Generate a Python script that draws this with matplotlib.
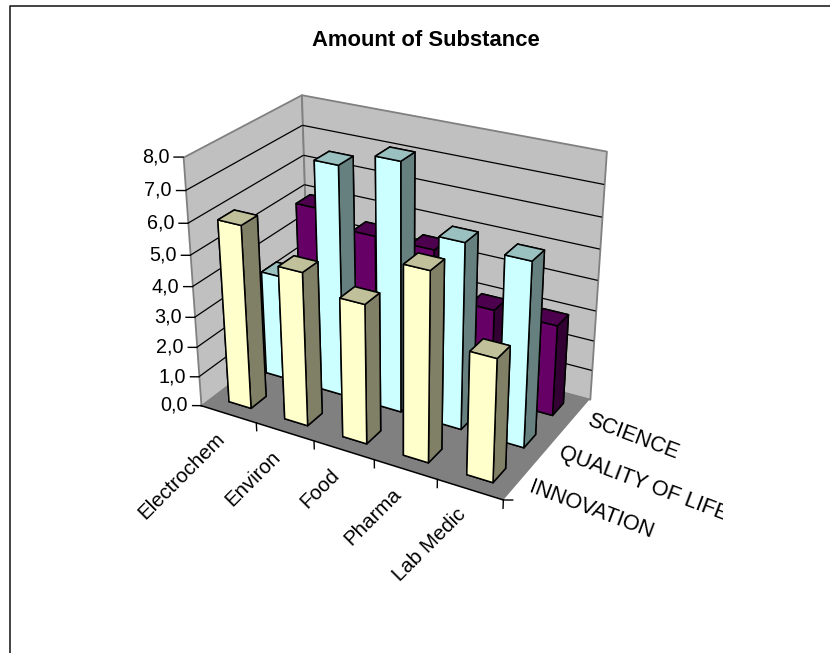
import numpy as np
import matplotlib
matplotlib.use("Agg")
import matplotlib.pyplot as plt
from matplotlib.lines import Line2D
from matplotlib.transforms import Bbox, IdentityTransform, TransformedBbox
from mpl_toolkits.mplot3d.art3d import Poly3DCollection, Line3DCollection

plt.rcParams['font.family'] = ['Liberation Sans', 'DejaVu Sans']

# ---- data ----
title = "Amount of Substance"
categories = ["Electrochem", "Environ", "Food", "Pharma", "Lab Medic"]
series_names = ["INNOVATION", "QUALITY OF LIFE", "SCIENCE"]
innovation = [6.0, 5.0, 4.5, 6.0, 3.9]
quality = [3.5, 7.5, 8.0, 6.0, 5.9]
science = [5.0, 4.5, 4.5, 3.0, 3.0]
z_ticks = [0, 1, 2, 3, 4, 5, 6, 7, 8]
z_labels = ["0,0", "1,0", "2,0", "3,0", "4,0", "5,0", "6,0", "7,0", "8,0"]

W, H = 830, 653
fig = plt.figure(figsize=(W / 100, H / 100), dpi=100, facecolor='white')
ax = fig.add_axes([0, 0, 1, 1], projection='3d', computed_zorder=False)
ax.set_axis_off()
ax.apply_aspect()

# ---- camera: calibrated from the frame of the box in the picture (px, y down) ----
calib = [
    ((0, 0, 0), (202, 404)), ((5, 0, 0), (502, 500)), ((5, 3, 0), (587, 398)),
    ((0, 3, 0), (308, 325)), ((0, 0, 8), (183, 157)), ((0, 3, 8), (302, 94)),
    ((5, 3, 8), (606, 152)), ((0, 0, 4), (192, 287)), ((2, 0, 0), (314, 441)),
    ((3, 0, 0), (374, 461)), ((5, 1, 0), (533, 464)), ((5, 2, 0), (569, 430)),
    ((5, 3, 4), (598, 280)),
]
rows, rhs = [], []
for (x, y, z), (u, v) in calib:
    d = H - v
    rows.append([x, y, z, 1, 0, 0, 0, 0, -u * x, -u * y, -u * z])
    rhs.append(u)
    rows.append([0, 0, 0, 0, x, y, z, 1, -d * x, -d * y, -d * z])
    rhs.append(d)
sol = np.linalg.lstsq(np.array(rows, float), np.array(rhs, float), rcond=None)[0]
P = np.array([sol[:4], sol[4:8], [*sol[8:], 1.0]])
T = ax.transData.inverted().get_matrix()
Pv = T @ P
M = np.array([Pv[0], Pv[1], [-0.1, 1.0, -0.1, 0.0], Pv[2]])
ax.get_proj = lambda: M

def to_display(x, y, z):
    u, v, w = P @ np.array([x, y, z, 1.0])
    return u / w, v / w

def poly(verts, fc, ec='none', lw=0.0, zo=1):
    c = Poly3DCollection([verts], facecolors=fc, edgecolors=ec, linewidths=lw)
    c.set_zorder(zo)
    c.set_clip_on(False)
    ax.add_collection3d(c, autolim=False)

nx, ny, zt = len(categories), len(series_names), z_ticks[-1]
GREY = '#808080'
# walls + floor
poly([(0, 0, 0), (0, ny, 0), (0, ny, zt), (0, 0, zt)], '#c0c0c0', GREY, 1.3, 1)
poly([(0, ny, 0), (nx, ny, 0), (nx, ny, zt), (0, ny, zt)], '#c0c0c0', GREY, 1.3, 1)
poly([(0, 0, 0), (nx, 0, 0), (nx, ny, 0), (0, ny, 0)], '#808080', 'none', 0, 1)
segs = []
for z in z_ticks[1:-1]:
    segs.append([(0, 0, z), (0, ny, z)])
    segs.append([(0, ny, z), (nx, ny, z)])
grid = Line3DCollection(segs, colors='k', linewidths=0.9)
grid.set_zorder(9)
grid.set_clip_on(False)
ax.add_collection3d(grid, autolim=False)

# axis lines and ticks
ax.plot([0, nx, nx], [0, 0, ny], [0, 0, 0], color='k', lw=1.1, zorder=9, clip_on=False)
for i in range(nx + 1):
    ax.plot([i, i], [0, 0], [0, -0.27], color='k', lw=1.0, zorder=9, clip_on=False)
for j in range(ny + 1):
    ax.plot([nx, nx + .11], [j, j + .06], [0, 0], color='k', lw=1.0, zorder=9, clip_on=False)
for z in z_ticks:
    ax.plot([0, -.11], [0, -.06], [z, z], color='k', lw=1.0, zorder=9, clip_on=False)

# bars
styles = [('#ffffcc', '#c0c09a', '#808066'),
          ('#ccffff', '#9ac0c0', '#668080'),
          ('#660066', '#4d004d', '#330033')]
all_values = [innovation, quality, science]
for j in range(ny - 1, -1, -1):
    front, top, side = styles[j]
    for i in range(nx):
        faces = [front, top, front, front, side, side]
        bar = ax.bar3d(i + .3, j + .3, 0, .4, .4, all_values[j][i], color=faces,
                       shade=False, edgecolor='k', linewidth=1.1)
        bar.set_zorder(10 + (ny - j) * 10 + i)
        bar.set_clip_on(False)

# text
fig.text(426 / W, 1 - 40 / H, title, fontsize=15.8, fontweight='bold', ha='center', va='center')
for z, lab in zip(z_ticks, z_labels):
    ax.text(-.17, -.09, z, lab, fontsize=14.2, ha='right', va='center')
for i, lab in enumerate(categories):
    u, v = to_display(i + .5, 0, 0)
    fig.text(u - 7, v - 22, lab, fontsize=14.8, rotation=45, ha='right', va='center',
             rotation_mode='anchor', transform=IdentityTransform())
clip = TransformedBbox(Bbox([[0, 0], [723, H]]), IdentityTransform())
for j, lab in enumerate(series_names):
    u, v = to_display(nx, j + .5, 0)
    t = fig.text(u + 11, v - 5, lab, fontsize=15.6, rotation=-20.7, ha='left', va='center',
                 rotation_mode='anchor', transform=IdentityTransform())
    t.set_clip_box(clip)
    t.set_clip_on(True)

# chart-area frame
fig.add_artist(Line2D([9.5 / W, 9.5 / W, 1], [0, 1 - 5.5 / H, 1 - 5.5 / H], color='#222222', lw=1.2))

fig.savefig('out.png', dpi=100)
